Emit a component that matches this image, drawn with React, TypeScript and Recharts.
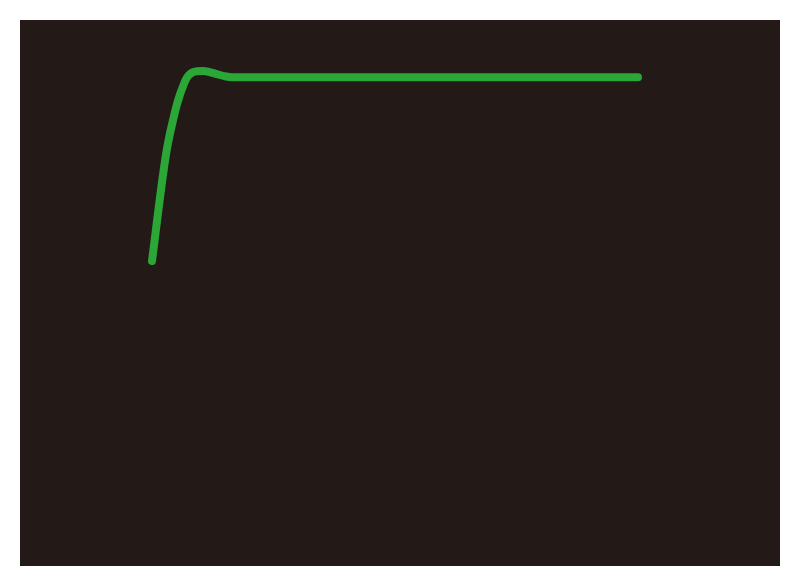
import React from "react";
import { Line, LineChart, XAxis, YAxis } from "recharts";

// time (s) and normalised response
const times = [
  0, 0.086, 0.16, 0.235, 0.3, 0.38, 0.454, 0.543, 0.648, 0.762, 0.87, 0.957, 1.034, 1.117, 1.235,
  1.389, 1.574, 1.78, 1.975, 2.284, 2.59, 3.2, 5, 8, 11, 15,
];
const response = [
  0, 0.12, 0.225, 0.33, 0.418, 0.52, 0.603, 0.685, 0.766, 0.848, 0.91, 0.951, 0.984, 1.008, 1.026,
  1.033, 1.035, 1.029, 1.019, 1.005, 1.0, 1.0, 1.0, 1.0, 1.0, 1.0,
];

const data = times.map((t, i) => ({ t, v: response[i] }));

export default function App() {
  return (
    <div style={{ position: "absolute", left: 0, top: 0, width: 800, height: 588, background: "#ffffff" }}>
      <div style={{ position: "absolute", left: 20, top: 20 }}>
        <LineChart
          width={760}
          height={546}
          data={data}
          margin={{ top: 39, right: 142, bottom: 305, left: 132 }}
          style={{ background: "#231a17" }}
        >
          <XAxis type="number" dataKey="t" domain={[0, 15]} hide />
          <YAxis type="number" domain={[0, 1.1]} hide />
          <Line
            type="monotone"
            dataKey="v"
            stroke="#2aa737"
            strokeWidth={8}
            strokeLinecap="round"
            strokeLinejoin="round"
            dot={false}
            activeDot={false}
            isAnimationActive={false}
          />
        </LineChart>
      </div>
    </div>
  );
}
